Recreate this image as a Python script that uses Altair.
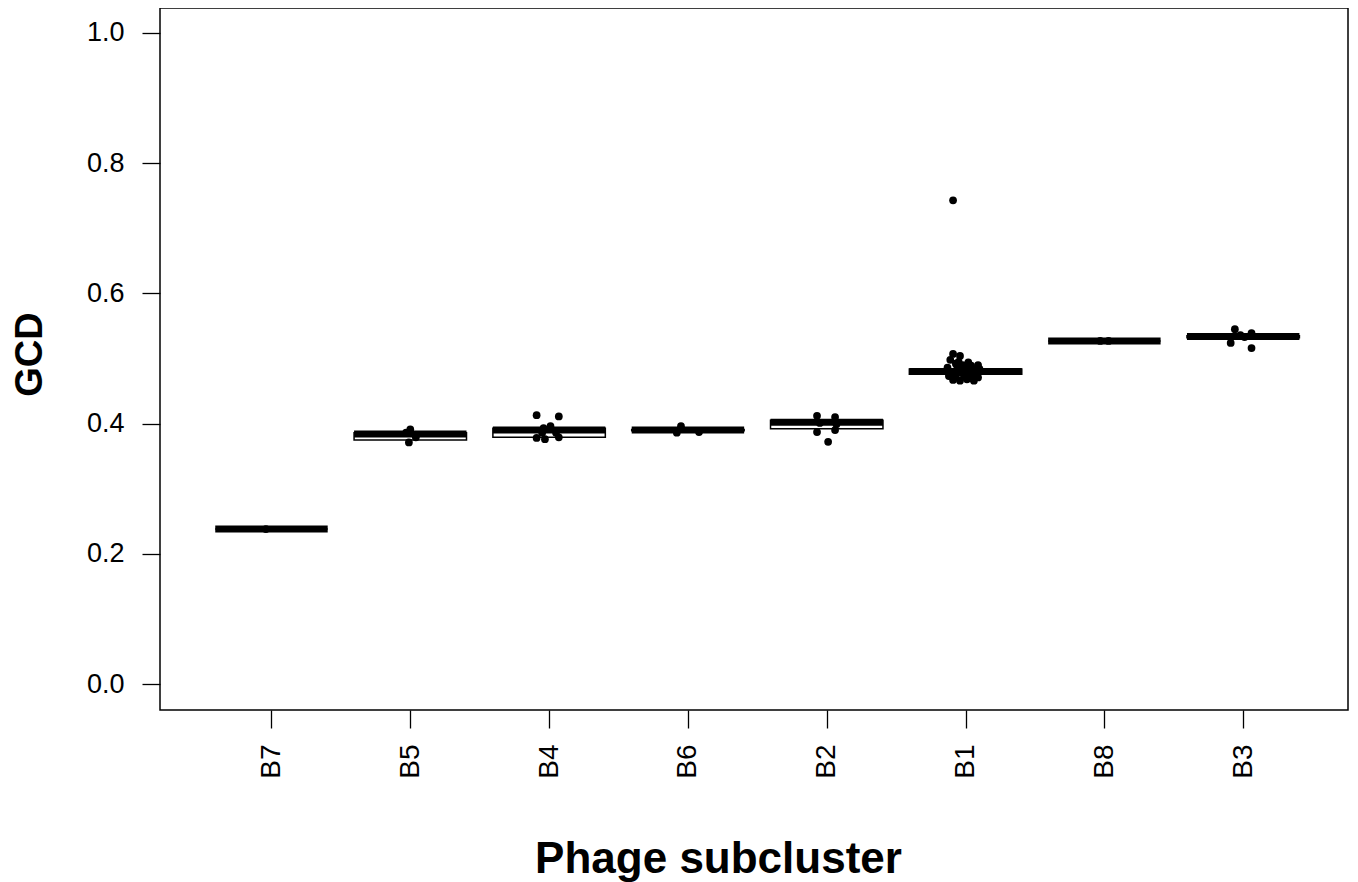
import altair as alt
import pandas as pd

# Categories in plotting order
categories = ["B7", "B5", "B4", "B6", "B2", "B1", "B8", "B3"]

# Box statistics (GCD)
q1 = [0.238, 0.375, 0.379, 0.389, 0.392, 0.476, 0.527, 0.532]
median = [0.238, 0.384, 0.390, 0.390, 0.402, 0.480, 0.527, 0.534]
q3 = [0.238, 0.386, 0.393, 0.391, 0.405, 0.484, 0.527, 0.535]

# Jittered strip-chart points: category, jitter (category units), GCD
pt_cat = (["B7"]
          + ["B5"] * 4
          + ["B4"] * 9
          + ["B6"] * 3
          + ["B2"] * 7
          + ["B1"] * 28
          + ["B8"] * 2
          + ["B3"] * 6)
pt_jit = ([-0.04]
          + [0.00, -0.03, 0.04, -0.01]
          + [-0.09, 0.07, 0.01, -0.04, -0.05, 0.05, -0.09, -0.03, 0.07]
          + [-0.05, -0.08, 0.08]
          + [-0.07, 0.06, -0.07, 0.06, 0.01, -0.05, 0.07]
          + [-0.09, -0.09, -0.04, -0.11, -0.07, -0.02, 0.04, 0.09, -0.13, -0.06,
             0.00, 0.06, 0.10, -0.10, -0.03, 0.03, 0.07, -0.12, -0.07, -0.01,
             0.04, 0.09, -0.09, -0.04, 0.01, 0.06, -0.05, 0.02]
          + [-0.03, 0.03]
          + [-0.06, -0.09, 0.06, 0.06, 0.01, -0.02])
pt_val = ([0.238]
          + [0.391, 0.386, 0.379, 0.371]
          + [0.413, 0.411, 0.396, 0.393, 0.386, 0.386, 0.378, 0.376, 0.379]
          + [0.396, 0.386, 0.387]
          + [0.412, 0.410, 0.387, 0.390, 0.372, 0.401, 0.399]
          + [0.743, 0.507, 0.504, 0.498, 0.492, 0.490, 0.489, 0.490, 0.486, 0.484,
             0.485, 0.483, 0.484, 0.479, 0.478, 0.477, 0.476, 0.473, 0.471, 0.472,
             0.470, 0.471, 0.467, 0.466, 0.468, 0.466, 0.495, 0.494]
          + [0.527, 0.527]
          + [0.545, 0.524, 0.539, 0.516, 0.533, 0.536])

y_ticks = [0.0, 0.2, 0.4, 0.6, 0.8, 1.0]

pos = {c: i + 1 for i, c in enumerate(categories)}
boxes = pd.DataFrame({"cat": categories, "pos": [pos[c] for c in categories],
                      "q1": q1, "median": median, "q3": q3})
points = pd.DataFrame({"cat": pt_cat, "jit": pt_jit, "GCD": pt_val})
points["pos"] = points["cat"].map(pos)

label_expr = "[" + ",".join(f"'{c}'" for c in categories) + "][datum.value - 1]"

FONT = "Liberation Sans"

x_scale = alt.Scale(domain=[0.197, 8.755], nice=False, zero=False)
y_scale = alt.Scale(domain=[-0.0399, 1.0384], nice=False, zero=False)

x_axis = alt.Axis(values=list(range(1, len(categories) + 1)), labelExpr=label_expr,
                  title="Phage subcluster", labelAngle=270, labelAlign="right",
                  labelBaseline="middle", labelPadding=16, labelFontSize=28,
                  titleFontSize=44, titleFontWeight="bold", titleY=162, titleX=558,
                  titleBaseline="alphabetic", titleAlign="center", grid=False, domain=False,
                  tickSize=18, tickWidth=1.3, tickColor="black", labelColor="black",
                  titleColor="black", labelFont=FONT, titleFont=FONT)
y_axis = alt.Axis(values=y_ticks, format=".1f", title="GCD", labelPadding=18,
                  labelFontSize=27, titleFontSize=38, titleFontWeight="bold",
                  titleAngle=270, titleX=-130, titleY=346, titleAlign="center",
                  titleBaseline="middle", grid=False, domain=False,
                  tickSize=18, tickWidth=1.3, tickColor="black", labelColor="black",
                  titleColor="black", labelFont=FONT, titleFont=FONT)

base_box = alt.Chart(boxes).transform_calculate(
    xl="datum.pos - 0.405", xr="datum.pos + 0.405")

rects = base_box.mark_rect(fill="white", stroke="black", strokeWidth=1.5).encode(
    x=alt.X("xl:Q", scale=x_scale, axis=x_axis),
    x2="xr:Q",
    y=alt.Y("q1:Q", scale=y_scale, axis=y_axis),
    y2="q3:Q",
)

meds = base_box.mark_rule(color="black", strokeWidth=7, strokeCap="butt").encode(
    x=alt.X("xl:Q", scale=x_scale),
    x2="xr:Q",
    y=alt.Y("median:Q", scale=y_scale),
)

pts = alt.Chart(points).transform_calculate(xp="datum.pos + datum.jit").mark_circle(
    color="black", size=60, opacity=1).encode(
    x=alt.X("xp:Q", scale=x_scale),
    y=alt.Y("GCD:Q", scale=y_scale),
)

chart = alt.layer(rects, meds, pts).properties(
    width=1188, height=702,
    autosize=alt.AutoSizeParams(type="none"),
    padding={"left": 152, "top": 0, "right": 2, "bottom": 172},
    background="white",
).configure_view(stroke="black", strokeWidth=1.5)

chart.save("out.html", embed_options={"renderer": "svg", "actions": False})
